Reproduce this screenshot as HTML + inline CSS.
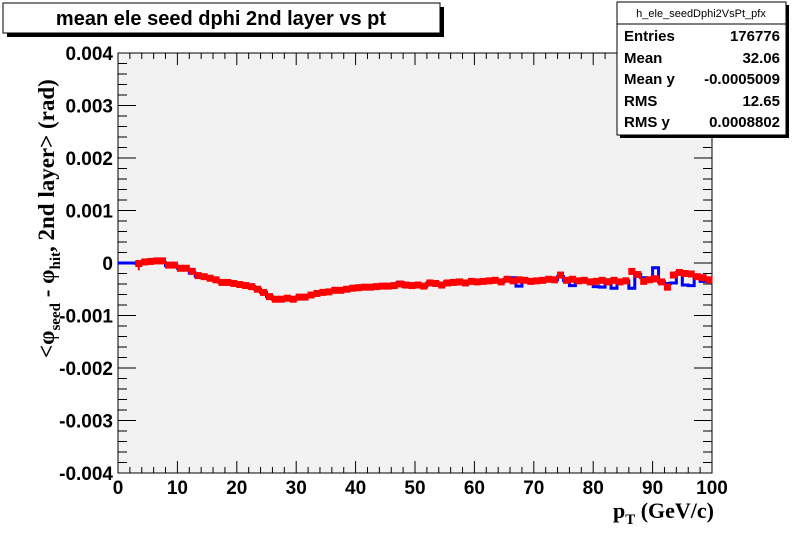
<!DOCTYPE html>
<html><head><meta charset="utf-8"><style>
body{margin:0;background:#fff}
svg{display:block;font-family:"Liberation Sans",sans-serif}
</style></head><body>
<svg id="c" width="792" height="544">
<rect x="0" y="0" width="792" height="544" fill="#fff"/>
<rect x="118" y="53" width="594" height="420" fill="#f2f2f2" stroke="#000" stroke-width="1"/>
<g id="axes"></g>
<g id="series"></g>
<rect x="7" y="7" width="437" height="30" fill="#000"/>
<rect x="3" y="3" width="437" height="30" fill="#fff" stroke="#000"/>
<text x="221" y="25" font-size="20" font-weight="bold" text-anchor="middle">mean ele seed dphi 2nd layer vs pt</text>
<g>
<rect x="620" y="5" width="169" height="133" fill="#000"/>
<rect x="617" y="2" width="169" height="133" fill="#fff" stroke="#000"/>
<line x1="617" y1="24" x2="786" y2="24" stroke="#000"/>
<text x="701" y="17" font-size="11" text-anchor="middle">h_ele_seedDphi2VsPt_pfx</text>
<g font-size="15" font-weight="bold">
<text x="624" y="41">Entries</text><text x="780" y="41" text-anchor="end">176776</text>
<text x="624" y="63">Mean</text><text x="780" y="63" text-anchor="end">32.06</text>
<text x="624" y="84">Mean y</text><text x="780" y="84" text-anchor="end">-0.0005009</text>
<text x="624" y="106">RMS</text><text x="780" y="106" text-anchor="end">12.65</text>
<text x="624" y="127">RMS y</text><text x="780" y="127" text-anchor="end">0.0008802</text>
</g></g>
<text x="714" y="518" font-size="22" font-weight="bold" font-family="Liberation Serif" text-anchor="end">p<tspan font-size="15" dy="6">T</tspan><tspan dy="-6"> (GeV/c)</tspan></text>
<text transform="translate(54,358) rotate(-90)" font-size="23" font-weight="bold" font-family="Liberation Serif">&lt;φ<tspan font-size="15" dy="6">seed</tspan><tspan dy="-6"> - φ</tspan><tspan font-size="15" dy="6">hit</tspan><tspan dy="-6">, 2nd layer&gt; (rad)</tspan></text>
</svg>
<script>
const xTicks=[0,10,20,30,40,50,60,70,80,90,100];
const yTicks=[-0.004,-0.003,-0.002,-0.001,0,0.001,0.002,0.003,0.004];
const yTickLabels=["-0.004","-0.003","-0.002","-0.001","0","0.001","0.002","0.003","0.004"];
const binStart=3;
const redVals=[-0.1,0.2,0.3,0.4,0.4,-0.4,-0.4,-1.0,-1.0,-1.6,-2.4,-2.6,-2.9,-3.2,-3.7,-3.7,-3.9,-4.1,-4.3,-4.5,-5.0,-5.6,-6.4,-6.9,-6.9,-6.7,-6.9,-6.5,-6.5,-6.1,-5.8,-5.6,-5.5,-5.2,-5.2,-5.0,-4.8,-4.7,-4.6,-4.6,-4.5,-4.4,-4.4,-4.3,-4.0,-4.2,-4.3,-4.2,-4.4,-3.8,-3.9,-4.2,-3.8,-3.7,-3.6,-3.8,-3.5,-3.6,-3.5,-3.4,-3.3,-3.6,-3.1,-3.4,-3.2,-3.3,-3.5,-3.4,-3.3,-3.1,-3.2,-2.3,-3.3,-3.1,-3.4,-3.3,-3.6,-3.5,-3.3,-3.6,-3.3,-3.6,-3.4,-1.6,-2.2,-3.5,-3.2,-3.0,-3.6,-4.6,-2.3,-1.8,-2.0,-2.1,-2.6,-2.8,-3.2];
const blueVals=[-0.1,0.2,0.3,0.3,0.1,-0.5,-0.6,-1.0,-1.2,-1.9,-2.5,-2.6,-2.9,-3.3,-3.7,-3.7,-3.9,-4.1,-4.3,-4.5,-5.0,-5.6,-6.4,-6.9,-6.9,-6.7,-6.9,-6.5,-6.5,-6.1,-5.8,-5.6,-5.5,-5.2,-5.2,-5.0,-4.8,-4.7,-4.6,-4.6,-4.5,-4.4,-4.4,-4.3,-3.7,-4.5,-4.3,-4.2,-4.4,-3.8,-3.9,-4.2,-3.6,-3.7,-3.6,-3.8,-3.5,-3.6,-3.5,-3.4,-3.3,-3.6,-3.1,-2.8,-4.4,-3.3,-3.5,-3.4,-3.3,-3.1,-3.2,-2.6,-3.3,-4.3,-3.4,-3.3,-3.6,-4.5,-4.6,-3.2,-4.8,-3.6,-3.4,-4.8,-2.2,-2.8,-3.2,-0.9,-3.6,-3.9,-3.8,-1.8,-4.2,-4.3,-2.6,-3.5,-3.2];
const x0=118,x1=712,yTop=53,yBot=473;
const X=v=>x0+(v-0)/(100-0)*(x1-x0);
const Y=v=>yBot-(v+0.004)/0.008*(yBot-yTop);
const NS="http://www.w3.org/2000/svg";
function mk(t,a,p){const e=document.createElementNS(NS,t);for(const k in a)e.setAttribute(k,a[k]);p.appendChild(e);return e;}
const ax=document.getElementById('axes'),se=document.getElementById('series');
for(let i=0;i<=50;i++){const v=i*2,x=X(v),big=v%10===0,l=big?12:6;
 mk('line',{x1:x,y1:yBot,x2:x,y2:yBot-l,stroke:'#000'},ax);mk('line',{x1:x,y1:yTop,x2:x,y2:yTop+l,stroke:'#000'},ax);}
xTicks.forEach(v=>{const t=mk('text',{x:X(v),y:yBot+21,'font-size':19,'font-weight':'bold','text-anchor':'middle'},ax);t.textContent=v;

});
for(let i=0;i<=40;i++){const v=-0.004+i*0.0002,y=Y(v),big=i%5===0,l=big?18:9;
 mk('line',{x1:x0,y1:y,x2:x0+l,y2:y,stroke:'#000'},ax);mk('line',{x1:x1,y1:y,x2:x1-l,y2:y,stroke:'#000'},ax);}
yTicks.forEach((v,i)=>{const t=mk('text',{x:x0-5,y:Y(v)+7,'font-size':19,'font-weight':'bold','text-anchor':'end'},ax);t.textContent=yTickLabels[i];

});
let d=`M${X(0)},${Y(0)} L${X(binStart)},${Y(0)}`;
blueVals.forEach((v,i)=>{const b=binStart+i;d+=` L${X(b)},${Y(v*1e-4)} L${X(b+1)},${Y(v*1e-4)}`;});
const bl=mk('path',{d:d,fill:'none',stroke:'#0000ff','stroke-width':3},se);


redVals.forEach((v,i)=>{const b=binStart+i+0.5,cx=X(b),cy=Y(v*1e-4);
 const r=mk('rect',{x:cx-3.5,y:cy-3.5,width:7,height:7,fill:'#ff0000'},se);
 
 });
mk('line',{x1:X(3.5),y1:Y(-0.1e-4),x2:X(3.5),y2:Y(-1.4e-4),stroke:'#ff0000','stroke-width':2},se);
</script>
</body></html>
